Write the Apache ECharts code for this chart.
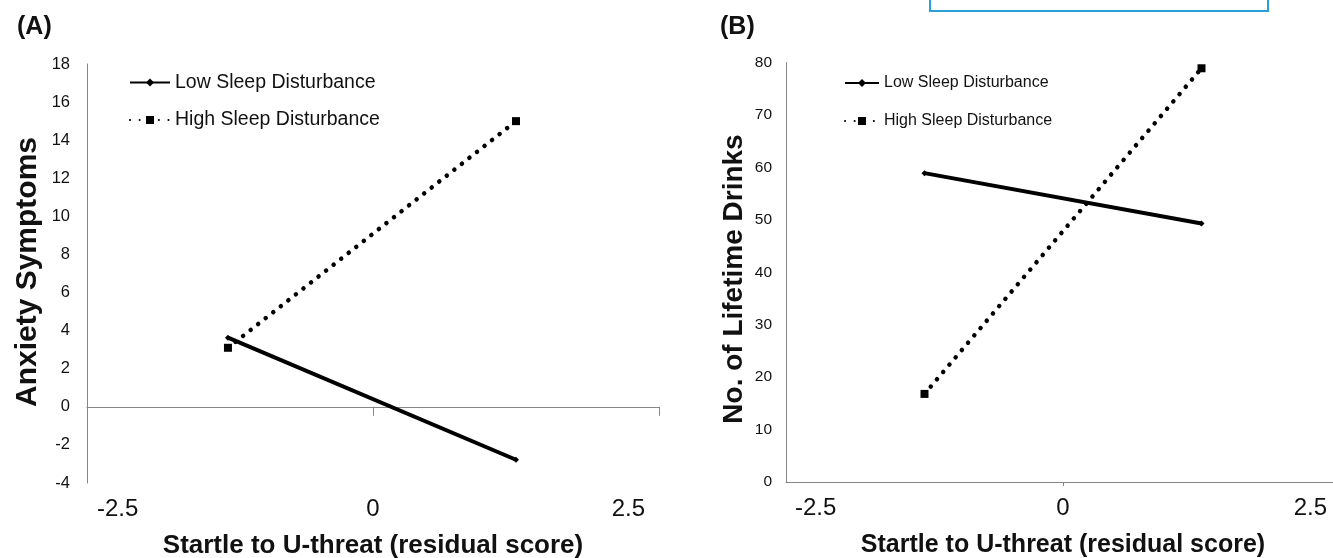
<!DOCTYPE html>
<html>
<head>
<meta charset="utf-8">
<script src="https://cdn.jsdelivr.net/npm/echarts@6/dist/echarts.min.js"></script>
<style>
html,body{margin:0;padding:0;background:#fff;}
#c{width:1333px;height:558px;}
</style>
</head>
<body>
<div id="c"></div>
<script>
// ---- data ----
const xMin = -2.8, xMax = 2.8;
const xLabelValues = [-2.5, 0, 2.5];
const seriesNames = ['Low Sleep Disturbance', 'High Sleep Disturbance'];
const xTitle = 'Startle to U-threat (residual score)';

// Panel A: Anxiety Symptoms
const aTitle = 'Anxiety Symptoms';
const aX = [-1.42, 1.40];
const aLow = [3.63, -2.78];
const aHigh = [3.1, 15.0];
const aYMin = -4, aYMax = 18, aYStep = 2;

// Panel B: No. of Lifetime Drinks
const bTitle = 'No. of Lifetime Drinks';
const bX = [-1.40, 1.40];
const bLow = [58.9, 49.3];
const bHigh = [16.8, 78.9];
const bYMin = 0, bYMax = 80, bYStep = 10;

const pairs = (xs, ys) => xs.map((x, i) => [x, ys[i]]);
const FONT = '"Liberation Sans", Arial, sans-serif';
const AX = '#868686';
const TXT = '#111';

const lowStyle = {
  symbol: 'diamond', symbolSize: 6,
  itemStyle: {color: '#000'},
  lineStyle: {color: '#000', width: 4}
};
const highStyle = {
  symbol: 'rect', symbolSize: 8,
  itemStyle: {color: '#000'},
  lineStyle: {color: '#000', width: 4.5, type: [0.1, 9.5], cap: 'round'}
};

const chart = echarts.init(document.getElementById('c'), null, {renderer: 'canvas'});
chart.setOption({
  animation: false,
  backgroundColor: '#fff',
  textStyle: {fontFamily: FONT},
  grid: [
    {left: 87, top: 64, width: 572, height: 419, outerBoundsMode: 'none', containLabel: false},
    {left: 786, top: 62.5, width: 554, height: 419.5, outerBoundsMode: 'none', containLabel: false}
  ],
  legend: [
    {orient: 'vertical', left: 129, top: 72.5, padding: 0, itemWidth: 40, itemHeight: 10, itemGap: 17.5, itemTextGap: 0,
     data: seriesNames, textStyle: {fontSize: 19.5, color: TXT, fontFamily: FONT}},
    {orient: 'vertical', left: 844, top: 75, padding: 0, itemWidth: 34, itemHeight: 10, itemGap: 22, itemTextGap: 0,
     data: seriesNames, textStyle: {fontSize: 16, color: TXT, fontFamily: FONT}}
  ],
  xAxis: [
    {type: 'value', gridIndex: 0, min: xMin, max: xMax,
     axisLine: {onZero: true, lineStyle: {color: AX, width: 1}},
     axisTick: {show: true, customValues: [0, xMax], length: 9, lineStyle: {color: AX}},
     axisLabel: {show: false}, splitLine: {show: false}},
    {type: 'value', gridIndex: 0, min: xMin, max: xMax, position: 'bottom',
     axisLine: {show: false, onZero: false}, axisTick: {show: false}, splitLine: {show: false},
     axisLabel: {customValues: xLabelValues, fontSize: 24, color: TXT, margin: 14, fontFamily: FONT},
     name: xTitle, nameLocation: 'middle', nameGap: 50,
     nameTextStyle: {fontSize: 26, fontWeight: 'bold', color: TXT, fontFamily: FONT}},
    {type: 'value', gridIndex: 1, min: xMin, max: xMax,
     axisLine: {onZero: true, lineStyle: {color: AX, width: 1}},
     axisTick: {show: true, customValues: [0, xMax], length: 4, lineStyle: {color: AX}},
     splitLine: {show: false},
     axisLabel: {customValues: xLabelValues, fontSize: 24, color: TXT, margin: 14, fontFamily: FONT},
     name: xTitle, nameLocation: 'middle', nameGap: 51,
     nameTextStyle: {fontSize: 25, fontWeight: 'bold', color: TXT, fontFamily: FONT}}
  ],
  yAxis: [
    {type: 'value', gridIndex: 0, min: aYMin, max: aYMax, interval: aYStep,
     axisLine: {show: true, onZero: false, lineStyle: {color: AX, width: 1}},
     axisTick: {show: false}, splitLine: {show: false},
     axisLabel: {fontSize: 16.5, color: TXT, margin: 17, fontFamily: FONT}},
    {type: 'value', gridIndex: 1, min: bYMin, max: bYMax, interval: bYStep,
     axisLine: {show: true, onZero: false, lineStyle: {color: AX, width: 1}},
     axisTick: {show: false}, splitLine: {show: false},
     axisLabel: {fontSize: 15.5, color: TXT, margin: 14, fontFamily: FONT}}
  ],
  series: [
    Object.assign({type: 'line', name: seriesNames[0], xAxisIndex: 0, yAxisIndex: 0, data: pairs(aX, aLow)}, lowStyle),
    Object.assign({type: 'line', name: seriesNames[1], xAxisIndex: 0, yAxisIndex: 0, data: pairs(aX, aHigh)}, highStyle),
    Object.assign({type: 'line', name: seriesNames[0], xAxisIndex: 2, yAxisIndex: 1, data: pairs(bX, bLow)}, lowStyle),
    Object.assign({type: 'line', name: seriesNames[1], xAxisIndex: 2, yAxisIndex: 1, data: pairs(bX, bHigh)}, highStyle)
  ],
  graphic: [
    {type: 'text', left: 17, top: 15, style: {text: '(A)', font: 'bold 25px ' + FONT, fill: TXT}},
    {type: 'text', left: 720, top: 15, style: {text: '(B)', font: 'bold 25px ' + FONT, fill: TXT}},
    {type: 'text', x: 28, y: 272, rotation: Math.PI / 2,
     style: {text: aTitle, font: 'bold 30px ' + FONT, fill: TXT, align: 'center', verticalAlign: 'middle'}},
    {type: 'text', x: 734, y: 279, rotation: Math.PI / 2,
     style: {text: bTitle, font: 'bold 28px ' + FONT, fill: TXT, align: 'center', verticalAlign: 'middle'}},
    {type: 'rect', shape: {x: 930, y: -4, width: 338, height: 15}, style: {fill: '#fff', stroke: '#2a9fd6', lineWidth: 2}}
  ]
});
</script>
</body>
</html>
